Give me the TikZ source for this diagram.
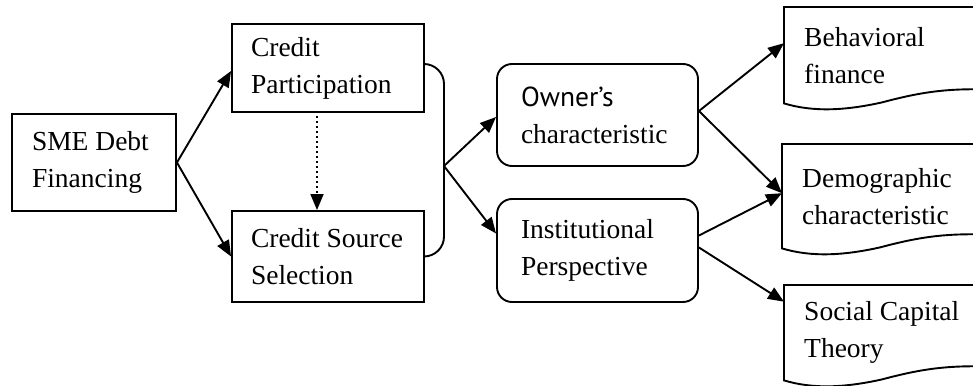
\documentclass[tikz,border=0pt]{standalone}
\usepackage{fontspec}
\setmainfont{Liberation Serif}
\newfontfamily\ownerfont{PT Sans}
\usetikzlibrary{arrows.meta,calc}
\tikzset{
  base/.style={line width=1.9pt, draw=black},
  box/.style={base, rectangle, align=flush left, inner ysep=0pt, font=\fontsize{27.5}{37}\selectfont},
  rbox/.style={box, rounded corners=15pt},
  doc/.style={rectangle, align=flush left, inner ysep=0pt, inner xsep=20pt, font=\fontsize{27.5}{37}\selectfont},
  docline/.style={base},
  arr/.style={base, -{Triangle[length=16pt,width=13pt]}},
  dotarr/.style={draw=black, line width=1.6pt, dash pattern=on 1.6pt off 3.4pt, -{Triangle[length=16pt,width=13pt,sep=0pt]}},
}
\newcommand\docoutline[1]{%
  \draw[docline] ($(#1.north west)+(200,0)$) -- (#1.north west) -- (#1.south west)
    .. controls ($(#1.south west)+(30,9)$) and ($(#1.south west)+(62,7)$) .. ($(#1.south west)+(98,-1)$)
    .. controls ($(#1.south west)+(132,-10)$) and ($(#1.south west)+(158,-15)$) .. ($(#1.south west)+(200,-14)$);}
\begin{document}
\begin{tikzpicture}[x=1pt,y=-1pt]
\useasboundingbox (0,0) rectangle (973,385);
% left boxes
\node[box, inner xsep=20pt, text width=124pt, minimum height=97pt] (sme) at (94,162.5) {SME Debt\\Financing};
\node[box, inner xsep=19pt, text width=154pt, minimum height=88pt] (cp) at (328,68) {Credit\\Participation};
\node[box, inner xsep=19pt, text width=154pt, minimum height=91pt] (css) at (328,256.5) {Credit Source\\Selection};
% middle rounded boxes
\node[rbox, inner xsep=24pt, text width=153pt, minimum height=102pt] (own) at (597.5,115) {{\ownerfont Owner’s}\\characteristic};
\node[rbox, inner xsep=24pt, text width=153pt, minimum height=103pt] (inst) at (597.5,250.5) {Institutional\\Perspective};
% documents
\node[doc, text width=170pt, minimum height=96pt, anchor=north west] (beh) at (784,7) {Behavioral\\finance};
\node[doc, text width=170pt, minimum height=104pt, anchor=north west] (dem) at (782,144) {Demographic\\characteristic};
\node[doc, text width=170pt, minimum height=95pt, anchor=north west] (soc) at (784,285) {Social Capital\\Theory};
\docoutline{beh}
\docoutline{dem}
\docoutline{soc}
% bracket
\coordinate (brk) at (444,166);
\draw[base, rounded corners=20pt] ([yshift=4pt]cp.east) -| (brk) |- (css.east);
% arrows
\draw[arr] (sme.east) -- ([yshift=-3pt]cp.west);
\draw[arr] (sme.east) -- (css.west);
\draw[dotarr] ([xshift=-11pt,yshift=-3pt]cp.south) -- ([xshift=-11pt]css.north);
\draw[arr] (brk) -- ([yshift=-2pt]own.west);
\draw[arr] (brk) -- ([yshift=17pt]inst.west);
\draw[arr] ([yshift=4pt]own.east) -- ([yshift=12pt]beh.west);
\draw[arr] ([yshift=4pt]own.east) -- ([yshift=3pt]dem.west);
\draw[arr] ([yshift=15pt]inst.east) -- ([yshift=3pt]dem.west);
\draw[arr] ([yshift=3pt]inst.east) -- ([yshift=31pt]soc.west);
\end{tikzpicture}
\end{document}
